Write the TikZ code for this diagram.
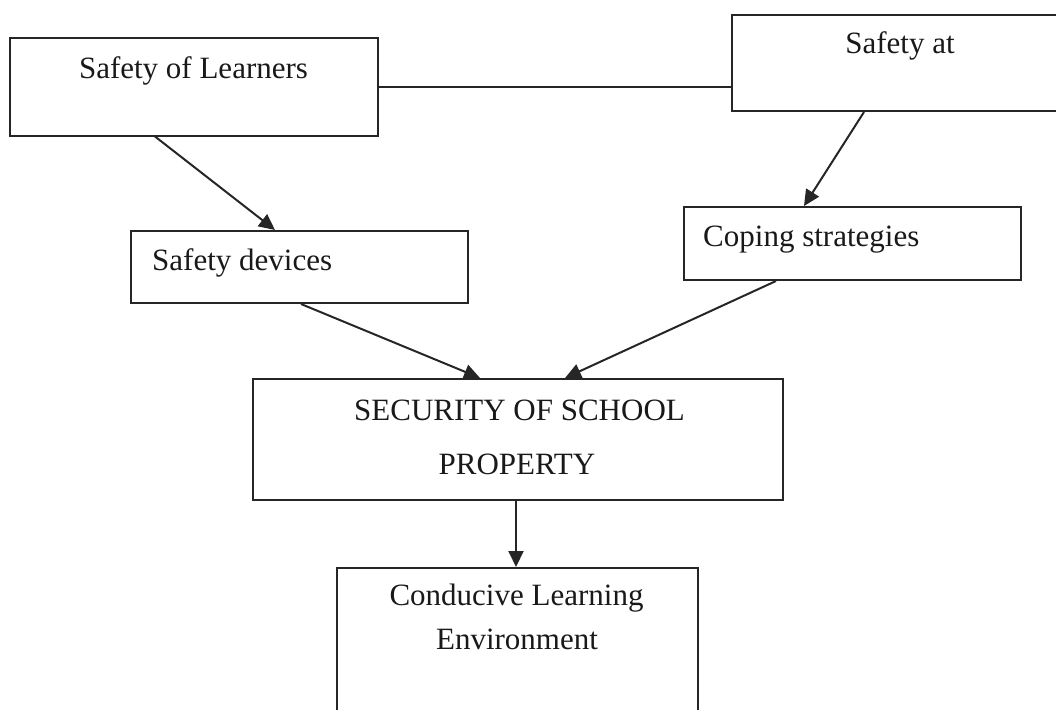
\documentclass[tikz,border=0pt]{standalone}
\usepackage{fontspec}
\setmainfont{Liberation Serif}
\usetikzlibrary{arrows.meta,calc}
\begin{document}
\begin{tikzpicture}[x=1pt,y=-1pt,
  box/.style={draw=black!85,line width=2pt,rectangle,inner sep=0pt},
  lbl/.style={inner sep=0pt,font=\fontsize{31}{36}\selectfont,text=black!90},
  conn/.style={draw=black!85,line width=2pt},
  arr/.style={conn,-{Triangle[length=16pt,width=15pt]}}]
\useasboundingbox (0,0) rectangle (1056,709);
\clip (0,0) rectangle (1056,709);
\node[box,minimum width=368pt,minimum height=97pt] (A) at (194,87) {};
\node[box,minimum width=343pt,minimum height=96pt] (B) at (903.5,63) {};
\node[box,minimum width=337pt,minimum height=72pt] (C) at (299.5,267) {};
\node[box,minimum width=337pt,minimum height=73pt] (D) at (852.5,243.5) {};
\node[box,minimum width=530pt,minimum height=121pt] (E) at (518,439.5) {};
\node[box,minimum width=361pt,minimum height=162pt] (F) at (517.5,649) {};
\node[lbl,anchor=base] (tA) at (193.5,78) {Safety of Learners};
\node[lbl,anchor=base] (tB) at (900,53) {Safety at};
\node[lbl,anchor=base west] (tC) at (152,270) {Safety devices};
\node[lbl,anchor=base west] (tD) at (703,246) {Coping strategies};
\node[lbl,anchor=base] (tE1) at (519.5,420) {SECURITY OF SCHOOL};
\node[lbl,anchor=base] (tE2) at (517,474) {PROPERTY};
\node[lbl,anchor=base] (tF1) at (516.5,605) {Conducive Learning};
\node[lbl,anchor=base] (tF2) at (517,649) {Environment};
\draw[conn] (A.east) -- (A.east -| B.west);
\draw[arr] ([xshift=146pt]A.south west) -- ([xshift=145pt]C.north west);
\draw[arr] ([xshift=133pt]B.south west) -- ([xshift=121pt]D.north west);
\draw[arr] ([xshift=171pt]C.south west) -- ([xshift=228pt]E.north west);
\draw[arr] ([xshift=93pt]D.south west) -- ([xshift=313pt]E.north west);
\draw[arr] ([xshift=-2pt]E.south) -- ([xshift=-1.5pt]F.north);
\end{tikzpicture}
\end{document}
